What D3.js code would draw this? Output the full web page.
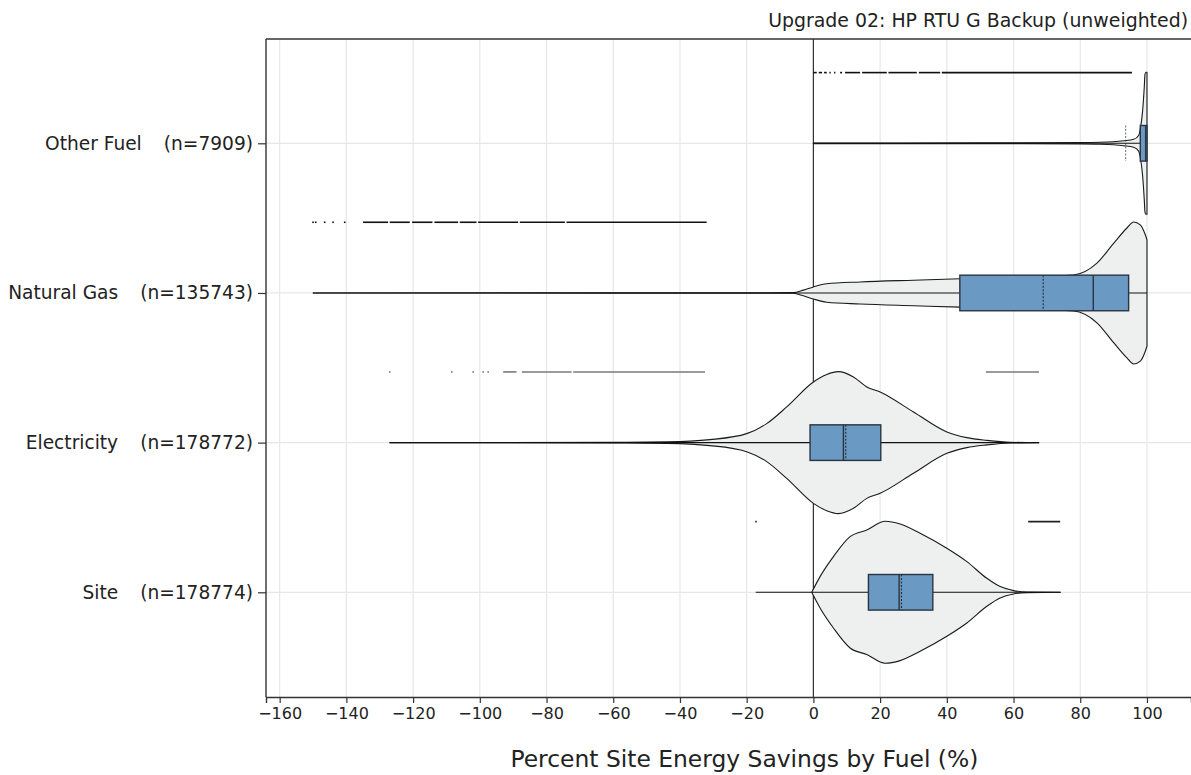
<!DOCTYPE html>
<html>
<head>
<meta charset="utf-8">
<script src="https://cdn.jsdelivr.net/npm/d3@7"></script>
<style>
  html, body { margin: 0; padding: 0; background: #fff; }
  svg { display: block; }
  text { font-family: "DejaVu Sans", Verdana, sans-serif; fill: #222; }
</style>
</head>
<body>
<svg id="chart" width="1191" height="775"></svg>
<script>
// ---------------- DATA ----------------
const categories = ["Other Fuel", "Natural Gas", "Electricity", "Site"];
const counts = [7909, 135743, 178772, 178774];
const q1Values = [98.0, 43.9, -1.0, 16.5];
const medianValues = [99.6, 83.9, 9.0, 25.7];
const q3Values = [100, 94.5, 20.2, 35.8];
const meanValues = [93.6, 68.9, 9.7, 26.4];
const spanMin = [0, -150, -127, -17.3];
const spanMax = [100, 100, 67.6, 74.1];
const xTicks = [-160, -140, -120, -100, -80, -60, -40, -20, 0, 20, 40, 60, 80, 100];
const titleText = "Upgrade 02: HP RTU G Backup (unweighted)";
const xTitle = "Percent Site Energy Savings by Fuel (%)";

// relative violin half-width (1 = widest) at each value
const otherFuelDensity = [[0,0.004],[50,0.006],[80,0.01],[86,0.014],[93,0.035],[96,0.056],[97.5,0.11],[98,0.2],[98.7,0.46],[99.2,0.8],[99.4,0.97],[99.7,1.0],[100,1.0]];
const naturalGasDensity = [[-150,0],[-60,0.002],[-20,0.003],[-6,0.005],[-3,0.04],[0,0.085],[4,0.13],[14,0.155],[30,0.18],[44,0.2],[60,0.22],[78,0.254],[85,0.42],[90,0.7],[94,0.915],[96,1.0],[98,0.96],[99.5,0.82],[100,0.75]];
const electricityDensity = [[-127,0],[-60,0.003],[-44,0.01],[-31,0.042],[-20,0.127],[-14,0.268],[-8,0.503],[0,0.855],[4,0.96],[7.5,1.0],[12,0.925],[16,0.785],[20,0.714],[30,0.432],[40,0.151],[46,0.07],[52,0.032],[59,0.005],[67.6,0]];
const siteDensity = [[-0.5,0],[2,0.221],[6,0.503],[11,0.784],[16,0.877],[21.5,1.0],[26,0.962],[32,0.831],[40,0.62],[46,0.432],[52,0.197],[56,0.08],[60,0.024],[64,0.004],[74,0]];
const densities = [otherFuelDensity, naturalGasDensity, electricityDensity, siteDensity];

// outliers: dense runs [from, to] and single points
const otherFuelOutlierRuns = [[0,1],[1.6,2.6],[3.2,4],[4.8,5.2],[6.2,6.6],[8,8.6],[9.5,14],[14.6,22],[22.5,31],[31.6,38],[38.5,95.5]];
const naturalGasOutlierRuns = [[-135,-127.5],[-127,-121],[-120.3,-114.2],[-113.6,-106.5],[-106,-101],[-100.5,-88.5],[-88,-74.5],[-74,-32]];
const electricityOutlierRuns = [[-93,-89],[-87.4,-72.5],[-72,-32.5],[51.7,67.6]];
const siteOutlierRuns = [[64.4,74]];
const outlierRuns = [otherFuelOutlierRuns, naturalGasOutlierRuns, electricityOutlierRuns, siteOutlierRuns];
const otherFuelOutlierPoints = [];
const naturalGasOutlierPoints = [-150, -149.2, -146.5, -144, -140.5];
const electricityOutlierPoints = [-127, -108.4, -102, -99, -97.5];
const siteOutlierPoints = [-17.2];
const outlierPoints = [otherFuelOutlierPoints, naturalGasOutlierPoints, electricityOutlierPoints, siteOutlierPoints];
const outlierColors = ["#111", "#111", "#7a7a7a", "#222"];

// ---------------- LAYOUT ----------------
const svg = d3.select("#chart");
const plotLeft = 266, plotRight = 1191, plotTop = 39, plotBottom = 697;

const x = d3.scaleLinear().domain([-164.1, 113.2]).range([plotLeft, plotRight]);
const y = d3.scalePoint().domain(categories).range([143.3, 592.3]);
const halfW = d3.scaleLinear().domain([0, 1]).range([0, 71]);
const boxHalf = 17.8;
const outlierOffset = 70.7;

// grid
const grid = svg.append("g");
grid.selectAll("line.vg").data(xTicks).join("line")
  .attr("x1", d => x(d)).attr("x2", d => x(d))
  .attr("y1", plotTop).attr("y2", plotBottom)
  .attr("stroke", "#e7e7e7").attr("stroke-width", 1.2);
grid.selectAll("line.hg").data(categories).join("line")
  .attr("x1", plotLeft).attr("x2", plotRight)
  .attr("y1", d => y(d)).attr("y2", d => y(d))
  .attr("stroke", "#e7e7e7").attr("stroke-width", 1.2);

// zero line
svg.append("line")
  .attr("x1", x(0)).attr("x2", x(0)).attr("y1", plotTop).attr("y2", plotBottom)
  .attr("stroke", "#333").attr("stroke-width", 1.2);

// violins
const violins = svg.append("g");
categories.forEach((c, i) => {
  const cy = y(c);
  const area = d3.area()
    .curve(d3.curveMonotoneX)
    .x(d => x(d[0]))
    .y0(d => cy + halfW(d[1]))
    .y1(d => cy - halfW(d[1]));
  violins.append("path")
    .datum(densities[i])
    .attr("d", area)
    .attr("fill", "#eef0f0")
    .attr("stroke", "#1a1a1a")
    .attr("stroke-width", 1.1)
    .attr("stroke-linejoin", "round");

  // center / whisker line
  violins.append("line")
    .attr("x1", x(spanMin[i])).attr("x2", x(spanMax[i]))
    .attr("y1", cy).attr("y2", cy)
    .attr("stroke", "#111").attr("stroke-width", 1.1);

  // box
  violins.append("rect")
    .attr("x", x(q1Values[i])).attr("y", cy - boxHalf)
    .attr("width", x(q3Values[i]) - x(q1Values[i]))
    .attr("height", boxHalf * 2)
    .attr("fill", "#6a9ac4")
    .attr("stroke", "#2a3441").attr("stroke-width", 1.4);
  // median
  violins.append("line")
    .attr("x1", x(medianValues[i])).attr("x2", x(medianValues[i]))
    .attr("y1", cy - boxHalf).attr("y2", cy + boxHalf)
    .attr("stroke", "#2a3441").attr("stroke-width", 1.4);
  // mean
  violins.append("line")
    .attr("x1", x(meanValues[i])).attr("x2", x(meanValues[i]))
    .attr("y1", cy - boxHalf).attr("y2", cy + boxHalf)
    .attr("stroke", "#2a3441").attr("stroke-width", 1.2)
    .attr("stroke-dasharray", "2,1.5")
    .attr("opacity", i === 0 ? 0.6 : 1);

  // outliers
  const oy = cy - outlierOffset;
  violins.selectAll(null).data(outlierRuns[i]).join("line")
    .attr("x1", d => x(d[0])).attr("x2", d => x(d[1]))
    .attr("y1", oy).attr("y2", oy)
    .attr("stroke", outlierColors[i]).attr("stroke-width", 1.6);
  violins.selectAll(null).data(outlierPoints[i]).join("rect")
    .attr("x", d => x(d) - 0.8).attr("y", oy - 0.8)
    .attr("width", 1.6).attr("height", 1.6)
    .attr("fill", outlierColors[i]);
});

// axes
const xAxis = svg.append("g")
  .attr("transform", `translate(0,${plotBottom})`)
  .call(d3.axisBottom(x).tickValues(xTicks).tickSize(6).tickPadding(5).tickFormat(d3.format("")));
xAxis.select(".domain").attr("stroke", "#333").attr("stroke-width", 1.4);
xAxis.selectAll(".tick line").attr("stroke", "#333").attr("stroke-width", 1.2);
xAxis.selectAll(".tick text").attr("font-size", 16).attr("fill", "#222")
  .style("font-family", "'DejaVu Sans', Verdana, sans-serif");

const yAxis = svg.append("g")
  .attr("transform", `translate(${plotLeft},0)`)
  .call(d3.axisLeft(y).tickSize(8).tickPadding(5).tickFormat(() => ""));
yAxis.select(".domain").remove();
yAxis.selectAll(".tick line").attr("stroke", "#333").attr("stroke-width", 1.2);
yAxis.selectAll(".tick text").each(function(d, i) {
  const t = d3.select(this)
    .attr("font-size", 18.6).attr("fill", "#222")
    .style("font-family", "'DejaVu Sans', Verdana, sans-serif");
  t.append("tspan").text(d);
  t.append("tspan").attr("dx", 22).text(`(n=${counts[i]})`);
});

// frame
svg.append("line").attr("x1", plotLeft).attr("x2", plotRight).attr("y1", plotTop).attr("y2", plotTop)
  .attr("stroke", "#333").attr("stroke-width", 1.4);
svg.append("line").attr("x1", plotLeft).attr("x2", plotLeft).attr("y1", plotTop).attr("y2", plotBottom)
  .attr("stroke", "#333").attr("stroke-width", 1.4);

// titles
svg.append("text")
  .attr("x", 1188).attr("y", 27)
  .attr("text-anchor", "end").attr("font-size", 18.9)
  .text(titleText);
svg.append("text")
  .attr("x", x(0) - 69).attr("y", 767)
  .attr("text-anchor", "middle").attr("font-size", 23.4)
  .text(xTitle);
</script>
</body>
</html>
